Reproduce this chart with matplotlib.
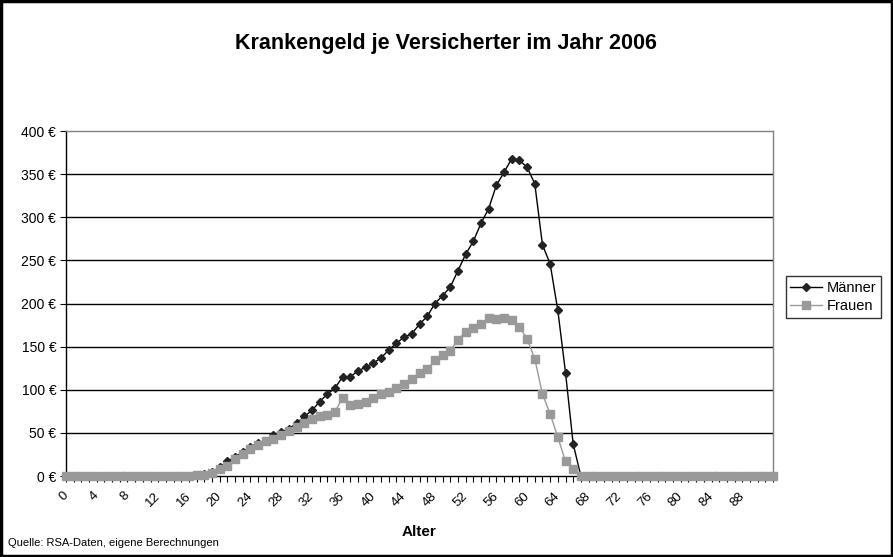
import matplotlib
matplotlib.use("Agg")
import matplotlib.pyplot as plt
import matplotlib.transforms as mtransforms
from matplotlib.patches import Rectangle
from matplotlib.ticker import MultipleLocator

plt.rcParams['font.family'] = ['Liberation Sans', 'DejaVu Sans']

# Alter 0..92
ages = list(range(93))

maenner = ([0] * 17 +
           [1, 2, 5, 10, 17, 22, 28, 34, 38, 41, 47, 51, 55, 61,
            69, 76, 86, 95, 102, 115, 115, 122, 126, 131, 137, 146, 154,
            161, 165, 176, 185, 200, 209, 219, 238, 257, 272, 293, 310,
            337, 352, 368, 366, 358, 339, 268, 246, 192, 120, 37] +
           [0] * 26)

frauen = ([0] * 17 +
          [1, 1, 4, 8, 12, 20, 25, 31, 36, 41, 43, 47, 52, 57,
           62, 66, 69, 71, 74, 91, 82, 83, 86, 91, 95, 97, 102,
           107, 113, 120, 124, 134, 140, 145, 158, 167, 172, 176, 183,
           182, 183, 181, 173, 159, 136, 95, 72, 45, 17, 8] +
          [0] * 26)

y_ticks = [0, 50, 100, 150, 200, 250, 300, 350, 400]
x_labels = list(range(0, 89, 4))

fig = plt.figure(figsize=(8.93, 5.57), dpi=100)
ax = fig.add_axes([66 / 893, 81 / 557, 707 / 893, 345 / 557])

ax.plot(ages, maenner, color='black', lw=1, marker='D', markersize=4,
        markerfacecolor='#222222', markeredgecolor='#222222',
        label='Männer', clip_on=False, zorder=3)
ax.plot(ages, frauen, color='#999999', lw=1, marker='s', markersize=5.5,
        markerfacecolor='#999999', markeredgecolor='#999999',
        label='Frauen', clip_on=False, zorder=4)

ax.set_xlim(0, 92)
ax.set_ylim(0, 400)
ax.set_yticks(y_ticks)
ax.set_yticklabels([f'{v} €' for v in y_ticks], fontsize=10)
ax.set_xticks(x_labels)
ax.set_xticklabels([str(v) for v in x_labels], fontsize=9.5, rotation=45,
                   ha='right', va='top', rotation_mode='anchor')
ax.xaxis.set_minor_locator(MultipleLocator(1))
ax.tick_params(axis='x', which='both', direction='out', length=4,
               width=0.8, pad=6)
ax.tick_params(axis='y', direction='out', length=4, width=0.8, pad=3)

# labels sit a little left of their ticks, as in the original
shift = mtransforms.ScaledTranslation(-4 / 100, 0, fig.dpi_scale_trans)
for lab in ax.get_xticklabels():
    lab.set_transform(lab.get_transform() + shift)

for v in y_ticks[1:-1]:
    ax.axhline(v, color='black', lw=1, zorder=1)

ax.spines['left'].set_color('black')
ax.spines['bottom'].set_color('black')
ax.spines['top'].set_color('#808080')
ax.spines['right'].set_color('#808080')
for s in ax.spines.values():
    s.set_linewidth(1)

fig.text(446 / 893, 1 - 43 / 557, 'Krankengeld je Versicherter im Jahr 2006',
         ha='center', va='center', fontsize=15.5, fontweight='bold')
fig.text(419.5 / 893, 1 - 532 / 557, 'Alter', ha='center', va='center',
         fontsize=11, fontweight='bold')
fig.text(8 / 893, 1 - 543 / 557, 'Quelle: RSA-Daten, eigene Berechnungen',
         ha='left', va='center', fontsize=8)

leg = fig.legend(loc='center left', bbox_to_anchor=(786 / 893, 1 - 297 / 557),
                 fontsize=10.5, frameon=True, fancybox=False, shadow=False,
                 handlelength=2.2, handletextpad=0.3, borderpad=0.3,
                 labelspacing=0.3, borderaxespad=0)
leg.get_frame().set_edgecolor('black')
leg.get_frame().set_linewidth(1)

fig.patches.append(Rectangle((0.001, 0.001), 0.998, 0.997,
                             transform=fig.transFigure, fill=False,
                             edgecolor='black', lw=2.5))

fig.savefig('out.png', dpi=100)
